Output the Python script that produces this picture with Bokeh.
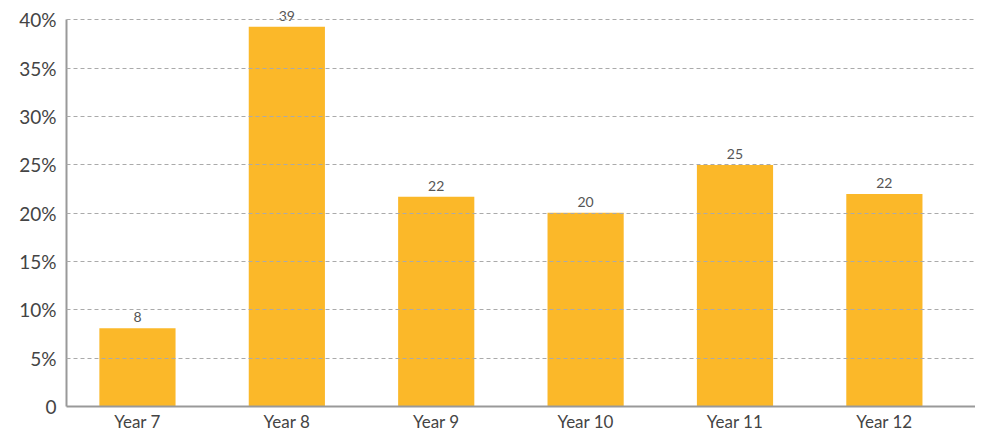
from bokeh.plotting import figure
from bokeh.models import ColumnDataSource, Range1d, FixedTicker, LabelSet
from bokeh.core.properties import value
from bokeh.embed import file_html
from bokeh.resources import INLINE

categories = ["Year 7", "Year 8", "Year 9", "Year 10", "Year 11", "Year 12"]
values = [8.1, 39.3, 21.7, 20.05, 25.0, 22.0]
value_labels = ["8", "39", "22", "20", "25", "22"]
y_ticks = [0, 5, 10, 15, 20, 25, 30, 35, 40]
y_tick_labels = ["0", "5%", "10%", "15%", "20%", "25%", "30%", "35%", "40%"]

positions = list(range(1, len(categories) + 1))
src = ColumnDataSource(dict(x=positions, top=values, label=value_labels))

FONT = "Lato"
p = figure(width=975, height=434, output_backend="svg", toolbar_location=None,
           x_range=Range1d(0.525, 6.61), y_range=Range1d(0, 41.6),
           min_border_left=66, min_border_right=0, min_border_top=4,
           min_border_bottom=10)
p.outline_line_color = None
p.background_fill_color = "white"
p.border_fill_color = "white"

p.vbar(x="x", top="top", width=0.51, bottom=0, source=src,
       fill_color="#FBB829", line_color=None)
labels = LabelSet(x="x", y="top", text="label", source=src, y_offset=6,
                  text_align="center", text_baseline="bottom",
                  text_font=value(FONT), text_font_size="14px",
                  text_color="#555555")
p.add_layout(labels)

p.xgrid.grid_line_color = None
p.ygrid.grid_line_color = "#aaaaaa"
p.ygrid.grid_line_dash = "4 3"
p.ygrid.grid_line_width = 1
p.ygrid.level = "overlay"

p.yaxis.ticker = FixedTicker(ticks=y_ticks)
p.yaxis.major_label_overrides = {t: l for t, l in zip(y_ticks, y_tick_labels)}
p.yaxis.bounds = (y_ticks[0], y_ticks[-1])
p.xaxis.ticker = FixedTicker(ticks=positions)
p.xaxis.major_label_overrides = {i: c for i, c in zip(positions, categories)}

for ax in (p.xaxis[0], p.yaxis[0]):
    ax.axis_line_color = "#999999"
    ax.axis_line_width = 2
    ax.major_tick_line_color = None
    ax.minor_tick_line_color = None
    ax.major_tick_out = 0
    ax.major_tick_in = 0
    ax.major_label_text_font = FONT
    ax.major_label_text_color = "#444444"

p.yaxis.major_label_text_font_size = "19px"
p.yaxis.major_label_standoff = 10
p.xaxis.major_label_text_font_size = "17px"
p.xaxis.major_label_standoff = 4

open("out.html", "w").write(file_html(p, INLINE))
